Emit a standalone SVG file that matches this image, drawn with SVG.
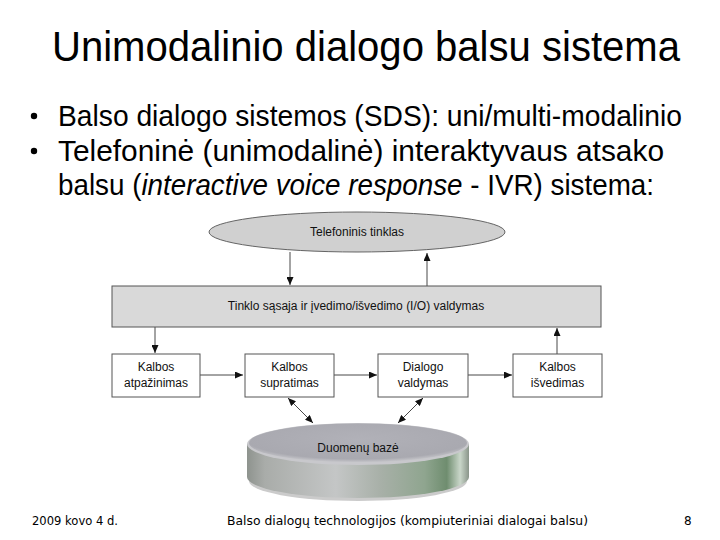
<svg xmlns="http://www.w3.org/2000/svg" width="720" height="540" viewBox="0 0 720 540">
<defs>
<style>
.title{font-family:"Liberation Sans",Arial,sans-serif;font-size:42px;fill:#000}
.bul{font-family:"Liberation Sans",Arial,sans-serif;font-size:29px;fill:#000}
.lbl{font-family:"Liberation Sans",Arial,sans-serif;font-size:12px;fill:#111;text-anchor:middle}
.foot{font-family:"DejaVu Sans",Verdana,sans-serif;font-size:12px;fill:#000}
.box{fill:#fff;stroke:#555;stroke-width:1}
.conn{stroke:#333;stroke-width:0.9;fill:none}
</style>
<marker id="ah" markerWidth="8" markerHeight="7" refX="8" refY="3.5" orient="auto" markerUnits="userSpaceOnUse">
<path d="M0,0 L8,3.5 L0,7 z" fill="#111"/>
</marker>
<marker id="ahs" markerWidth="8" markerHeight="7" refX="0" refY="3.5" orient="auto" markerUnits="userSpaceOnUse">
<path d="M8,0 L0,3.5 L8,7 z" fill="#111"/>
</marker>
<linearGradient id="side" x1="0" y1="0" x2="1" y2="0">
<stop offset="0" stop-color="#8e938e"/>
<stop offset="0.08" stop-color="#a9aca9"/>
<stop offset="0.4" stop-color="#c4c6c6"/>
<stop offset="0.6" stop-color="#a8b0a8"/>
<stop offset="0.8" stop-color="#8fa58f"/>
<stop offset="0.9" stop-color="#6f8d6f"/>
<stop offset="0.96" stop-color="#c9d6c9"/>
<stop offset="1" stop-color="#8a958a"/>
</linearGradient>
<radialGradient id="top" cx="0.5" cy="0.4" r="0.6">
<stop offset="0" stop-color="#b1b1b8"/>
<stop offset="0.85" stop-color="#a9a9b0"/>
<stop offset="1" stop-color="#c8c8cc"/>
</radialGradient>
</defs>
<rect width="720" height="540" fill="#fff"/>

<text class="title" x="52" y="61" textLength="628" lengthAdjust="spacingAndGlyphs">Unimodalinio dialogo balsu sistema</text>

<g id="bullets">
<circle cx="34" cy="116" r="3.2" fill="#000"/>
<text class="bul" x="58" y="126" textLength="624" lengthAdjust="spacingAndGlyphs">Balso dialogo sistemos (SDS): uni/multi-modalinio</text>
<circle cx="34" cy="151" r="3.2" fill="#000"/>
<text class="bul" x="58" y="161" textLength="606" lengthAdjust="spacingAndGlyphs">Telefoninė (unimodalinė) interaktyvaus atsako</text>
<text class="bul" x="58" y="195" textLength="596" lengthAdjust="spacingAndGlyphs">balsu (<tspan font-style="italic">interactive voice response</tspan> - IVR) sistema:</text>
</g>

<g id="connectors">
<line class="conn" x1="290" y1="252" x2="290" y2="285" marker-end="url(#ah)"/>
<line class="conn" x1="427" y1="286" x2="427" y2="253" marker-end="url(#ah)"/>
<line class="conn" x1="155" y1="327" x2="155" y2="353" marker-end="url(#ah)"/>
<line class="conn" x1="557" y1="354" x2="557" y2="328" marker-end="url(#ah)"/>
<line class="conn" x1="200" y1="375" x2="243" y2="375" marker-end="url(#ah)"/>
<line class="conn" x1="334" y1="375" x2="377" y2="375" marker-end="url(#ah)"/>
<line class="conn" x1="468" y1="375" x2="512" y2="375" marker-end="url(#ah)"/>
<line class="conn" x1="288" y1="398" x2="313" y2="423" marker-start="url(#ahs)" marker-end="url(#ah)"/>
<line class="conn" x1="423" y1="398" x2="398" y2="423" marker-start="url(#ahs)" marker-end="url(#ah)"/>
</g>

<g id="telefoninis">
<ellipse cx="357" cy="232" rx="148" ry="20" fill="#d0d0d0" stroke="#555" stroke-width="0.9"/>
<text class="lbl" x="357" y="236">Telefoninis tinklas</text>
</g>

<g id="sasaja">
<rect x="112" y="286" width="489" height="41" fill="#d9d9d9" stroke="#555" stroke-width="1"/>
<text class="lbl" x="356" y="310">Tinklo sąsaja ir įvedimo/išvedimo (I/O) valdymas</text>
</g>

<g id="atpazinimas">
<rect class="box" x="112" y="354" width="88" height="43"/>
<text class="lbl" x="156" y="371">Kalbos</text>
<text class="lbl" x="156" y="387">atpažinimas</text>
</g>
<g id="supratimas">
<rect class="box" x="245" y="354" width="89" height="43"/>
<text class="lbl" x="289.5" y="371">Kalbos</text>
<text class="lbl" x="289.5" y="387">supratimas</text>
</g>
<g id="valdymas">
<rect class="box" x="378" y="354" width="90" height="43"/>
<text class="lbl" x="423" y="371">Dialogo</text>
<text class="lbl" x="423" y="387">valdymas</text>
</g>
<g id="isvedimas">
<rect class="box" x="513" y="354" width="89" height="43"/>
<text class="lbl" x="557.5" y="371">Kalbos</text>
<text class="lbl" x="557.5" y="387">išvedimas</text>
</g>

<g id="duomenu-baze">
<ellipse cx="358" cy="481" rx="109" ry="20" fill="#6a6a6a" opacity="0.35"/>
<path d="M247,444 L247,477 A111,21 0 0 0 469,477 L469,444 Z" fill="url(#side)"/>
<ellipse cx="358" cy="444" rx="111" ry="21" fill="#c8c8cc"/>
<ellipse cx="358" cy="443" rx="109" ry="19.5" fill="url(#top)"/>
<text class="lbl" x="358" y="452">Duomenų bazė</text>
</g>

<g id="footer">
<text class="foot" x="32" y="525" textLength="86" lengthAdjust="spacingAndGlyphs">2009 kovo 4 d.</text>
<text class="foot" x="227" y="525" textLength="361" lengthAdjust="spacingAndGlyphs">Balso dialogų technologijos (kompiuteriniai dialogai balsu)</text>
<text class="foot" x="684" y="525">8</text>
</g>
</svg>
